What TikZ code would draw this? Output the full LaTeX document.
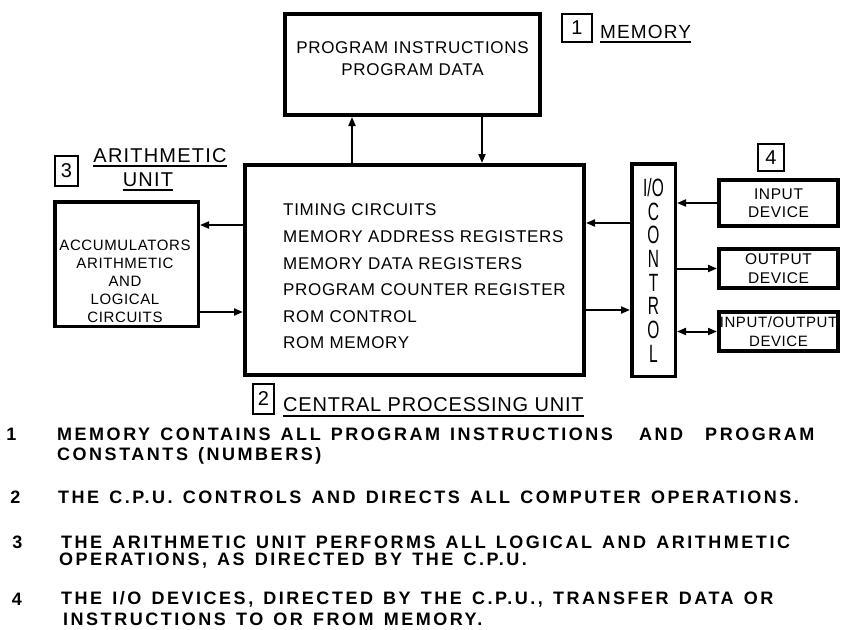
\documentclass[tikz,border=0pt]{standalone}
\usepackage{fontspec}
\setmainfont{Liberation Sans}[LetterSpace=4]
\newfontfamily\lblfont{Liberation Sans}[LetterSpace=6]
\newfontfamily\notefont{Liberation Sans}[LetterSpace=14, WordSpace=1.35]
\newfontfamily\ioctfont{Liberation Sans}[FakeStretch=0.62]
\usetikzlibrary{arrows.meta, positioning, calc}

\begin{document}
\begin{tikzpicture}[x=1pt, y=-1pt,
  blk/.style={draw, line width=4pt, inner sep=0pt},
  numbox/.style={draw, line width=2pt, inner sep=0pt, font=\fontsize{20}{20}\selectfont},
  lbl/.style={anchor=west, inner xsep=0pt, inner ysep=3.5pt, font=\lblfont\fontsize{19}{21}\selectfont},
  uline/.style={line width=2pt},
  arr/.style={line width=2pt, -{Triangle[length=9pt, width=7pt]}},
  dev/.style={blk, minimum width=119, minimum height=39, align=center, font=\fontsize{15.5}{18.5}\selectfont},
  note/.style={anchor=west, inner sep=0pt, font=\notefont\bfseries\fontsize{18}{22}\selectfont},
  notenum/.style={inner sep=0pt, font=\notefont\bfseries\fontsize{18}{22}\selectfont}
]
  \useasboundingbox (0,0) rectangle (842,629);

  % memory
  \node[blk, minimum width=255, minimum height=101] (mem) at (412.5,64.5) {};
  \node[align=center, inner sep=0pt, font=\fontsize{17}{22}\selectfont] (memtxt) at (412.5,59)
    {PROGRAM INSTRUCTIONS\\PROGRAM DATA};
  \node[numbox, minimum width=30, minimum height=28] (n1) at (577,28) {1};
  \node[lbl] (memlbl) at (600,32) {MEMORY};
  \draw[uline] (memlbl.south west) -- (memlbl.south east);

  % central processing unit
  \node[blk, minimum width=339, minimum height=210] (cpu) at (414.5,270) {};
  \node[anchor=west, align=left, inner sep=0pt, font=\fontsize{17}{26.6}\selectfont] (cputxt) at (283,276.5)
    {TIMING CIRCUITS\\MEMORY ADDRESS REGISTERS\\MEMORY DATA REGISTERS\\PROGRAM COUNTER REGISTER\\ROM CONTROL\\ROM MEMORY};
  \node[numbox, minimum width=21, minimum height=30] (n2) at (263.5,399) {2};
  \node[lbl, font=\fontsize{20}{22}\selectfont] (cpulbl) at (283,405) {CENTRAL PROCESSING UNIT};
  \draw[uline] (cpulbl.south west) -- (cpulbl.south east);

  % arithmetic unit
  \node[blk, line width=3.5pt, minimum width=143.5, minimum height=124.5] (arith) at (126.5,264) {};
  \node[align=center, inner sep=0pt, font=\fontsize{15}{18}\selectfont] (arithtxt) at (125,281)
    {ACCUMULATORS\\ARITHMETIC\\AND\\LOGICAL\\CIRCUITS};
  \node[numbox, minimum width=23, minimum height=30] (n3) at (66.5,171) {3};
  \node[lbl, anchor=center, font=\lblfont\fontsize{20}{22}\selectfont] (arithlbl) at (160,155.5) {ARITHMETIC};
  \node[lbl, anchor=center, font=\lblfont\fontsize{20}{22}\selectfont] (unitlbl) at (148,179.5) {UNIT};
  \draw[uline] (arithlbl.south west) -- (arithlbl.south east);
  \draw[uline] (unitlbl.south west) -- (unitlbl.south east);

  % i/o control and devices
  \node[blk, line width=3.5pt, minimum width=43.5, minimum height=212.5] (ioc) at (653.5,270) {};
  \node[anchor=north, align=center, inner sep=0pt, font=\ioctfont\fontsize{25}{23.7}\selectfont] (ioctxt) at (653.5,178)
    {I/O\\C\\O\\N\\T\\R\\O\\L};
  \node[dev, minimum height=46] (indev) at (778.5,203) {INPUT\\DEVICE};
  \node[dev] (outdev) at (778.5,268.5) {OUTPUT\\DEVICE};
  \node[dev, font=\fontsize{15}{18.5}\selectfont] (iodev) at (778.5,331.5) {INPUT/OUTPUT\\DEVICE};
  \node[numbox, minimum width=26, minimum height=27] (n4) at (771,157.5) {4};

  % connectors
  \draw[arr] ([xshift=-60.5]mem.south |- cpu.north) -- ([xshift=-60.5]mem.south);
  \draw[arr] ([xshift=69.5]mem.south) -- ([xshift=69.5]mem.south |- cpu.north);
  \draw[arr] ([yshift=45]cpu.west) -- ([yshift=45]cpu.west -| arith.east);
  \draw[arr] ([yshift=-42]cpu.west -| arith.east) -- ([yshift=-42]cpu.west);
  \draw[arr] ([yshift=47]ioc.west) -- ([yshift=47]ioc.west -| cpu.east);
  \draw[arr] ([yshift=-40]cpu.east) -- ([yshift=-40]cpu.east -| ioc.west);
  \draw[arr] (indev.west) -- (indev.west -| ioc.east);
  \draw[arr] (outdev.west -| ioc.east) -- (outdev.west);
  \draw[arr, {Triangle[length=9pt, width=7pt]}-{Triangle[length=9pt, width=7pt]}] (iodev.west -| ioc.east) -- (iodev.west);

  % notes
  \node[notenum] (k1) at (11.5,434) {1};
  \node[note] (t1) at (57,434) {MEMORY CONTAINS ALL PROGRAM INSTRUCTIONS\hspace{16pt} AND\hspace{12pt} PROGRAM};
  \node[note] (t1b) at (57,456) {CONSTANTS (NUMBERS)};
  \node[notenum] (k2) at (15.5,497) {2};
  \node[note] (t2) at (58,497) {THE C.P.U. CONTROLS AND DIRECTS ALL COMPUTER OPERATIONS.};
  \node[notenum] (k3) at (17.5,542) {3};
  \node[note] (t3) at (61,542) {THE ARITHMETIC UNIT PERFORMS ALL LOGICAL AND ARITHMETIC};
  \node[note] (t3b) at (59,561) {OPERATIONS, AS DIRECTED BY THE C.P.U.};
  \node[notenum] (k4) at (17,599) {4};
  \node[note] (t4) at (61,599) {THE I/O DEVICES, DIRECTED BY THE C.P.U., TRANSFER DATA OR};
  \node[note] (t4b) at (63,619) {INSTRUCTIONS TO OR FROM MEMORY.};
\end{tikzpicture}
\end{document}
